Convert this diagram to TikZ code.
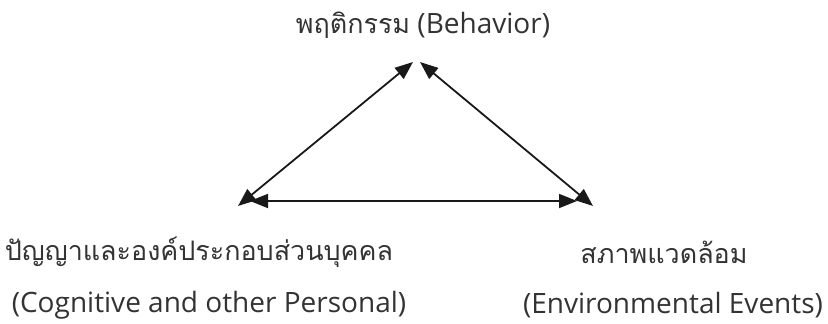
\documentclass[tikz,border=0pt]{standalone}
\usepackage{fontspec}
\setmainfont{Open Sans}
\newfontfamily\thaifont[Script=Thai,Scale=0.96]{Loma}
\usetikzlibrary{arrows.meta}
\tikzset{
  lbl/.style={inner sep=0pt, text=black!80, font=\fontsize{28}{32}\selectfont},
  conn/.style={line width=1.8pt, black!90, {Triangle[length=18pt,width=14pt]}-{Triangle[length=18pt,width=14pt]}}
}
\begin{document}
\begin{tikzpicture}[x=1pt,y=-1pt]
\useasboundingbox (0,0) rectangle (828,324);
\node[lbl] (beh) at (423,25) {{\thaifont พฤติกรรม} (Behavior)};
\node[lbl] (pth) at (199,252) {\thaifont ปัญญาและองค์ประกอบส่วนบุคคล};
\node[lbl] (pen) at (209,305) {(Cognitive and other Personal)};
\node[lbl] (eth) at (664,252) {\thaifont สภาพแวดล้อม};
\node[lbl] (een) at (673,305) {(Environmental Events)};
\coordinate (tl) at (413,62);
\coordinate (tr) at (420,62);
\coordinate (bl) at (238,206);
\coordinate (br) at (593,206);
\coordinate (hl) at (250,201);
\coordinate (hr) at (577,201);
\draw[conn] (bl) -- (tl);
\draw[conn] (tr) -- (br);
\draw[conn] (hl) -- (hr);
\end{tikzpicture}
\end{document}
